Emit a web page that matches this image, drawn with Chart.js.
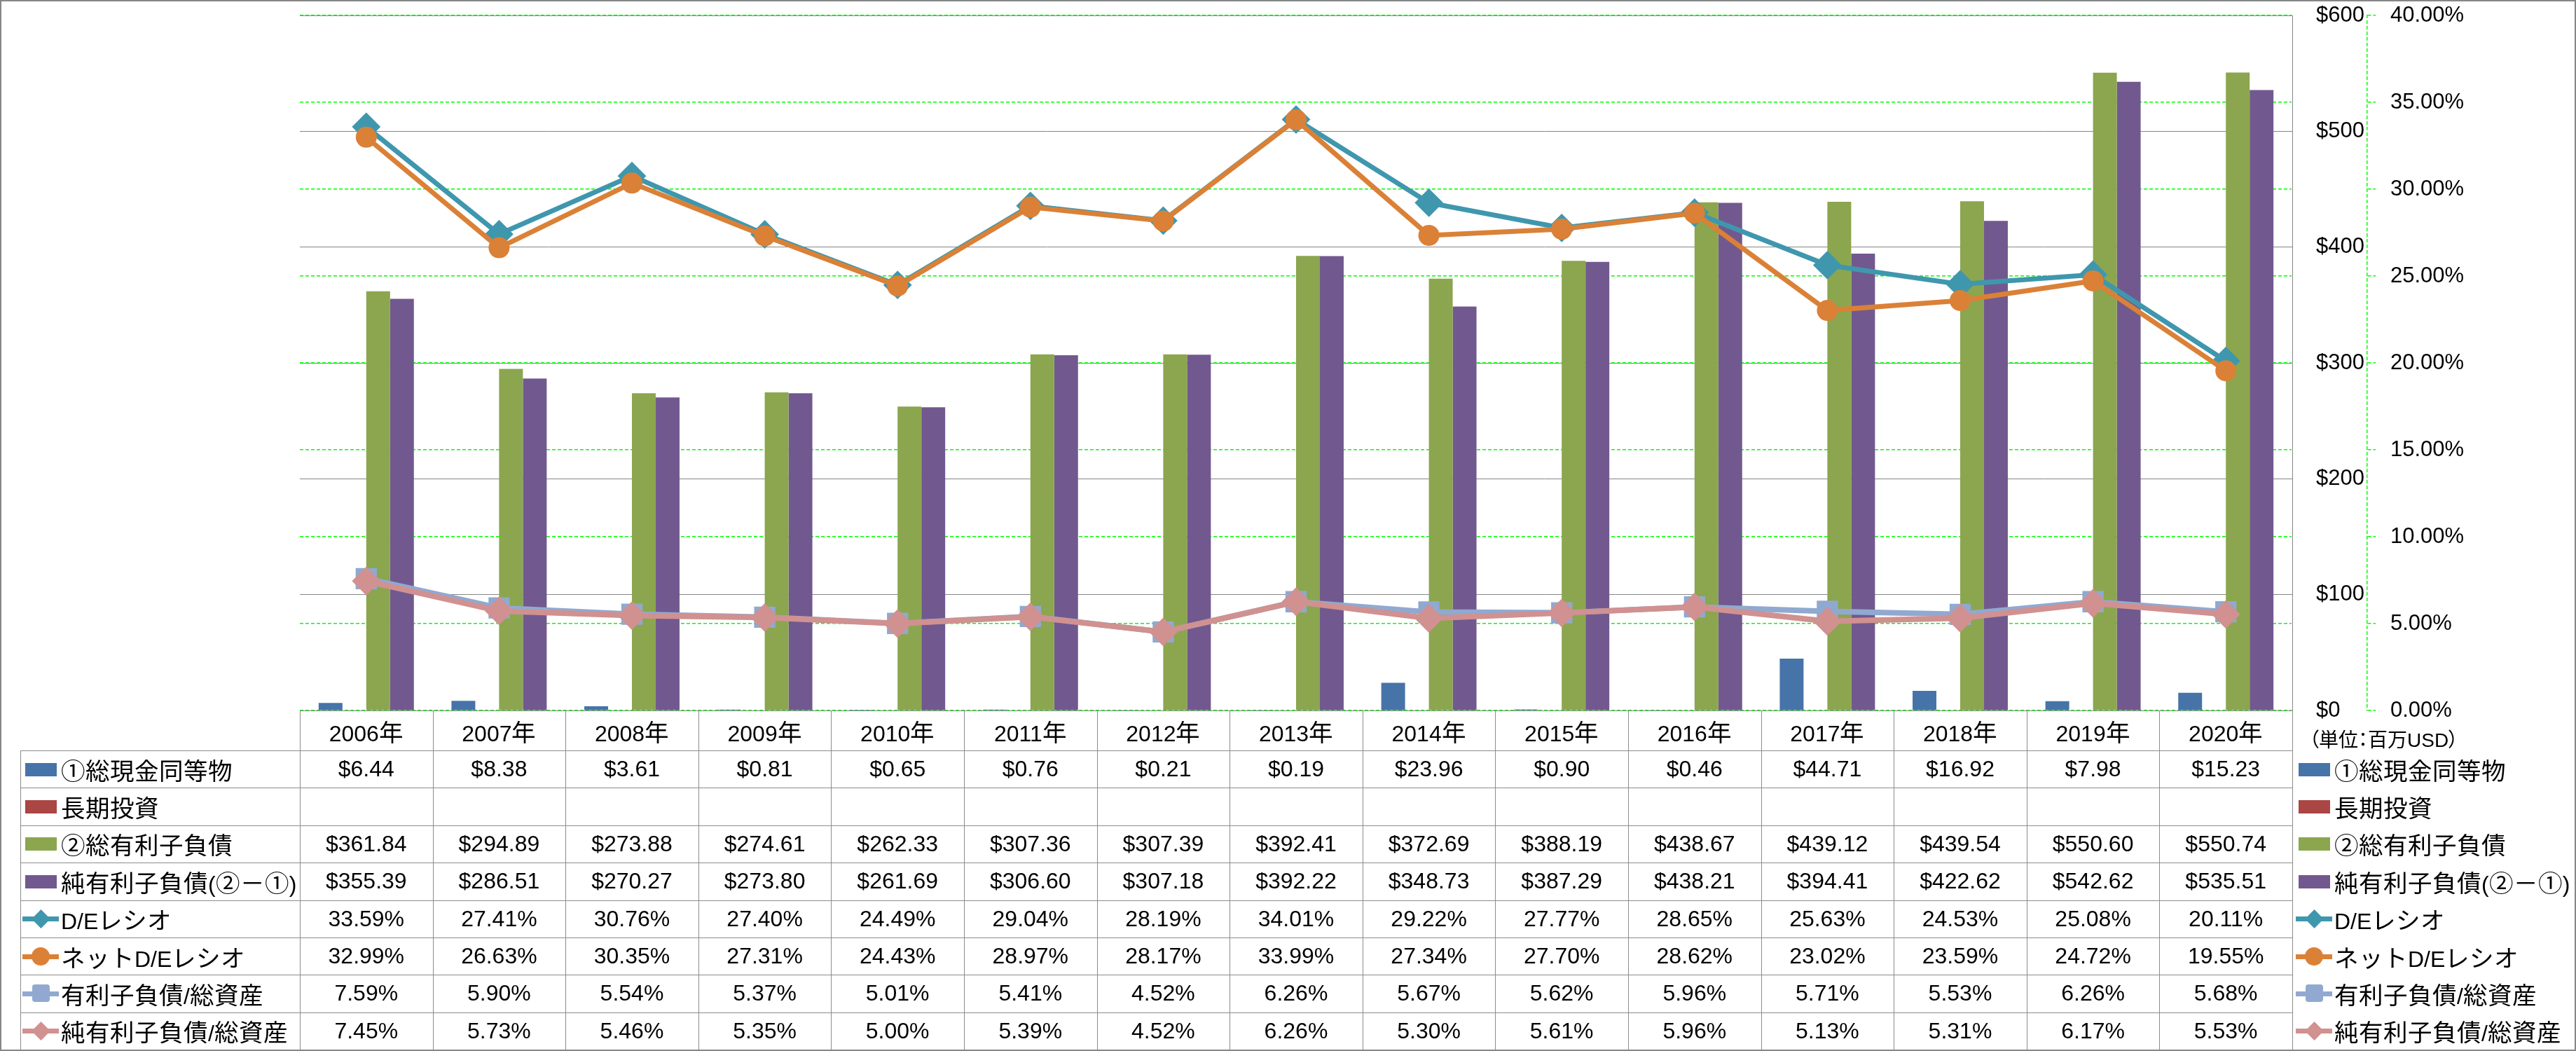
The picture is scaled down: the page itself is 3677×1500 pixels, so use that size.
<!DOCTYPE html>
<html>
<head>
<meta charset="utf-8">
<script src="https://cdn.jsdelivr.net/npm/chart.js@4.4.1/dist/chart.umd.min.js"></script>
<style>
@font-face {
  font-family: "JPAdj";
  src: local("Noto Sans CJK JP Regular"), local("NotoSansCJKjp-Regular"), local("Noto Sans CJK JP");
  size-adjust: 108%;
}
html, body { margin: 0; padding: 0; background: #fff; }
#wrap { position: relative; width: 3677px; height: 1500px; overflow: hidden; background: #fff; }
#c { position: absolute; left: 0; top: 0; }
#frame { position: absolute; left: 0; top: 0; width: 3677px; height: 1500px; box-sizing: border-box; border: 2px solid #868686; pointer-events: none; }
#tbl { position: absolute; left: 0; top: 0; width: 3677px; height: 1500px; pointer-events: none;
  font-family: "Liberation Sans", "JPAdj", "Noto Sans CJK JP", sans-serif; font-size: 32px; color: #000; }
.ln { position: absolute; background: #8c8c8c; }
.cell { position: absolute; display: flex; align-items: center; justify-content: center; white-space: nowrap; }
.lab { position: absolute; display: flex; align-items: center; white-space: nowrap; }
.key { position: relative; width: 52px; height: 40px; flex: none; margin-right: 3px; }
.key .bar { position: absolute; left: 4px; top: 11px; width: 45px; height: 19px; }
.key .line { position: absolute; left: 0; top: 17px; width: 52px; height: 7px; }
.key .mk { position: absolute; }
.unit { position: absolute; font-size: 28px; font-feature-settings: "palt"; white-space: nowrap; font-family: "Liberation Sans", "Noto Sans CJK JP", sans-serif; }
</style>
</head>
<body>
<div id="wrap">
  <canvas id="c" width="3677" height="1500"></canvas>
  <div id="tbl"></div>
  <div id="frame"></div>
</div>
<script>
// ---------- data ----------
const categories = ['2006年','2007年','2008年','2009年','2010年','2011年','2012年','2013年','2014年','2015年','2016年','2017年','2018年','2019年','2020年'];

const cashEquivalents   = [6.44, 8.38, 3.61, 0.81, 0.65, 0.76, 0.21, 0.19, 23.96, 0.90, 0.46, 44.71, 16.92, 7.98, 15.23];
const longTermInvest    = [null, null, null, null, null, null, null, null, null, null, null, null, null, null, null];
const totalDebt         = [361.84, 294.89, 273.88, 274.61, 262.33, 307.36, 307.39, 392.41, 372.69, 388.19, 438.67, 439.12, 439.54, 550.60, 550.74];
const netDebt           = [355.39, 286.51, 270.27, 273.80, 261.69, 306.60, 307.18, 392.22, 348.73, 387.29, 438.21, 394.41, 422.62, 542.62, 535.51];
const deRatio           = [33.59, 27.41, 30.76, 27.40, 24.49, 29.04, 28.19, 34.01, 29.22, 27.77, 28.65, 25.63, 24.53, 25.08, 20.11];
const netDeRatio        = [32.99, 26.63, 30.35, 27.31, 24.43, 28.97, 28.17, 33.99, 27.34, 27.70, 28.62, 23.02, 23.59, 24.72, 19.55];
const debtToAssets      = [7.59, 5.90, 5.54, 5.37, 5.01, 5.41, 4.52, 6.26, 5.67, 5.62, 5.96, 5.71, 5.53, 6.26, 5.68];
const netDebtToAssets   = [7.45, 5.73, 5.46, 5.35, 5.00, 5.39, 4.52, 6.26, 5.30, 5.61, 5.96, 5.13, 5.31, 6.17, 5.53];

const seriesNames = ['①総現金同等物', '長期投資', '②総有利子負債', '純有利子負債(②－①)', 'D/Eレシオ', 'ネットD/Eレシオ', '有利子負債/総資産', '純有利子負債/総資産'];
const usdAxis = { min: 0, max: 600, step: 100 };
const pctAxis = { min: 0, max: 40, step: 5 };
const unitLabel = '（単位：百万USD）';

// ---------- styles ----------
const COL = {
  cash: '#4674A9', lti: '#AA4643', debt: '#8BA64E', net: '#71598F',
  de: '#3F97AE', nde: '#DA8137', dta: '#91A9D0', ndta: '#D09190'
};

const ctx = document.getElementById('c').getContext('2d');
const tickFont = { family: 'Liberation Sans', size: 31 };

function lineDs(label, data, color, style, radius, order, width) {
  return {
    type: 'line', label, data, yAxisID: 'y1', order,
    borderColor: color, backgroundColor: color, borderWidth: width,
    pointStyle: style, pointRadius: radius, pointBorderWidth: 2,
    pointBackgroundColor: color, pointBorderColor: color,
    tension: 0, fill: false
  };
}
function noPad(s) { s.paddingTop = 0; s.paddingBottom = 0; }

const chart = new Chart(ctx, {
  type: 'bar',
  data: {
    labels: categories,
    datasets: [
      { label: seriesNames[0], data: cashEquivalents, backgroundColor: COL.cash, yAxisID: 'y', order: 10 },
      { label: seriesNames[1], data: longTermInvest, backgroundColor: COL.lti, yAxisID: 'y', order: 10 },
      { label: seriesNames[2], data: totalDebt, backgroundColor: COL.debt, yAxisID: 'y', order: 10 },
      { label: seriesNames[3], data: netDebt, backgroundColor: COL.net, yAxisID: 'y', order: 10 },
      lineDs(seriesNames[4], deRatio, COL.de, 'rectRot', 19, 4, 7),
      lineDs(seriesNames[5], netDeRatio, COL.nde, 'circle', 14, 3, 7),
      lineDs(seriesNames[6], debtToAssets, COL.dta, 'rect', 20, 2, 8),
      lineDs(seriesNames[7], netDebtToAssets, COL.ndta, 'rectRot', 19, 1, 8)
    ]
  },
  options: {
    responsive: false,
    animation: false,
    devicePixelRatio: 1,
    layout: { padding: { left: 428, top: 21, right: 0, bottom: 486 } },
    plugins: { legend: { display: false }, tooltip: { enabled: false }, title: { display: false } },
    datasets: { bar: { categoryPercentage: 0.717, barPercentage: 1.0 } },
    scales: {
      x: { display: false, offset: true, grid: { display: false } },
      y: {
        position: 'right', weight: 0, min: usdAxis.min, max: usdAxis.max,
        ticks: { stepSize: usdAxis.step, padding: 34, font: tickFont, color: '#000', callback: v => '$' + v },
        grid: { color: '#868686', lineWidth: 1, drawTicks: false },
        border: { display: true, color: '#868686', width: 1 },
        afterFit: s => { s.width = 107; noPad(s); }
      },
      y1: {
        position: 'right', weight: 1, z: -1, min: pctAxis.min, max: pctAxis.max,
        ticks: { stepSize: pctAxis.step, padding: 21, font: tickFont, color: '#000', callback: v => Number(v).toFixed(2) + '%' },
        grid: { color: '#00ff00', lineWidth: 1.5, drawTicks: true, tickLength: 12, tickColor: '#00ff00', tickBorderDash: [5, 3], tickWidth: 1.5 },
        border: { display: true, color: '#00ff00', width: 1.5, dash: [5, 3] },
        afterFit: s => { s.width = 298; noPad(s); }
      }
    }
  }
});

// dashed axis line for the percentage axis
(function () {
  const s = chart.scales.y1;
  const orig = s.drawBorder.bind(s);
  s.drawBorder = function () {
    const c = this.ctx;
    c.save();
    c.setLineDash([5, 3]);
    orig();
    c.restore();
  };
  chart.draw();
})();

// ---------- data table + legend (HTML, positioned from the chart's scales) ----------
const tbl = document.getElementById('tbl');
const area = chart.chartArea;
const xScale = chart.scales.x;
const nCat = categories.length;
const catW = (area.right - area.left) / nCat;
const tableLeft = 29, headerTop = area.bottom, headerBottom = 1071, tableBottom = 1498;
const rowH = (tableBottom - headerBottom) / 8;

function el(cls, css, txt) {
  const d = document.createElement('div');
  d.className = cls;
  Object.assign(d.style, css);
  if (txt !== undefined) d.textContent = txt;
  tbl.appendChild(d);
  return d;
}
function hLine(x1, x2, y) { el('ln', { left: x1 + 'px', top: (Math.round(y) - 0.5) + 'px', width: (x2 - x1 + 1) + 'px', height: '1px' }); }
function vLine(x, y1, y2) { el('ln', { left: (Math.round(x) - 0.5) + 'px', top: y1 + 'px', width: '1px', height: (y2 - y1) + 'px' }); }

function makeKey(kind, color, marker) {
  const k = document.createElement('div');
  k.className = 'key';
  if (kind === 'bar') {
    const b = document.createElement('div'); b.className = 'bar'; b.style.background = color; k.appendChild(b);
  } else {
    const l = document.createElement('div'); l.className = 'line'; l.style.background = color; k.appendChild(l);
    const m = document.createElement('div'); m.className = 'mk'; m.style.background = color;
    if (marker === 'diamond') {
      Object.assign(m.style, { width: '19px', height: '19px', left: '16.5px', top: '10.5px', transform: 'rotate(45deg)' });
    } else if (marker === 'circle') {
      Object.assign(m.style, { width: '26px', height: '26px', left: '13px', top: '7px', borderRadius: '50%' });
    } else {
      Object.assign(m.style, { width: '25px', height: '25px', left: '13.5px', top: '7.5px', borderRadius: '4px' });
    }
    k.appendChild(m);
  }
  return k;
}

const rowsDef = [
  { name: seriesNames[0], kind: 'bar', color: COL.cash, vals: cashEquivalents, fmt: v => '$' + v.toFixed(2) },
  { name: seriesNames[1], kind: 'bar', color: COL.lti, vals: longTermInvest, fmt: v => '$' + v.toFixed(2) },
  { name: seriesNames[2], kind: 'bar', color: COL.debt, vals: totalDebt, fmt: v => '$' + v.toFixed(2) },
  { name: seriesNames[3], kind: 'bar', color: COL.net, vals: netDebt, fmt: v => '$' + v.toFixed(2) },
  { name: seriesNames[4], kind: 'line', color: COL.de, marker: 'diamond', vals: deRatio, fmt: v => v.toFixed(2) + '%' },
  { name: seriesNames[5], kind: 'line', color: COL.nde, marker: 'circle', vals: netDeRatio, fmt: v => v.toFixed(2) + '%' },
  { name: seriesNames[6], kind: 'line', color: COL.dta, marker: 'square', vals: debtToAssets, fmt: v => v.toFixed(2) + '%' },
  { name: seriesNames[7], kind: 'line', color: COL.ndta, marker: 'diamond', vals: netDebtToAssets, fmt: v => v.toFixed(2) + '%' }
];

// grid lines of table
hLine(area.left, area.right, headerTop);
for (let r = 0; r <= rowsDef.length; r++) hLine(tableLeft, area.right, headerBottom + r * rowH);
vLine(tableLeft, headerBottom, tableBottom);
for (let i = 0; i <= nCat; i++) vLine(area.left + i * catW, headerTop, tableBottom);

// header
for (let i = 0; i < nCat; i++) {
  const cx = xScale.getPixelForValue(i);
  el('cell', { left: (cx - catW / 2) + 'px', top: headerTop + 'px', width: catW + 'px', height: (headerBottom - headerTop) + 'px' }, categories[i]);
}
// rows
rowsDef.forEach((row, r) => {
  const top = headerBottom + r * rowH;
  const lab = el('lab', { left: (tableLeft + 3) + 'px', top: top + 'px', height: rowH + 'px' });
  lab.appendChild(makeKey(row.kind, row.color, row.marker));
  lab.appendChild(document.createTextNode(row.name));
  for (let i = 0; i < nCat; i++) {
    const v = row.vals[i];
    const cx = xScale.getPixelForValue(i);
    el('cell', { left: (cx - catW / 2) + 'px', top: top + 'px', width: catW + 'px', height: rowH + 'px' }, v === null ? '' : row.fmt(v));
  }
  // right-hand legend
  const lg = el('lab', { left: (area.right + 5) + 'px', top: top + 'px', height: rowH + 'px' });
  lg.appendChild(makeKey(row.kind, row.color, row.marker));
  lg.appendChild(document.createTextNode(row.name));
});
// unit label
el('unit', { left: '3296px', top: '1034px' }, unitLabel);
</script>
</body>
</html>
